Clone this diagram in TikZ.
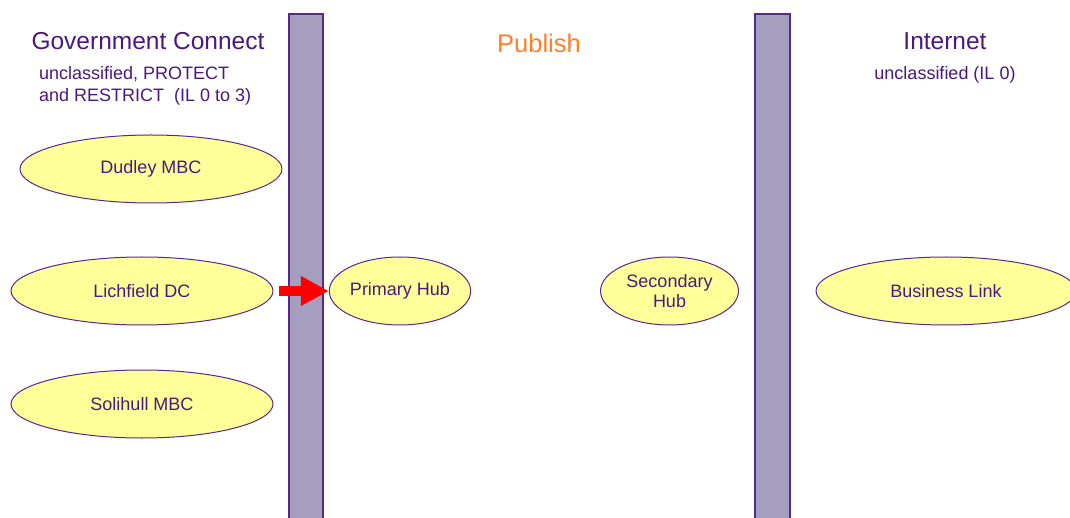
\documentclass[tikz,border=0pt]{standalone}
\usepackage{fontspec}
\setmainfont{Liberation Sans}
\usetikzlibrary{shapes.geometric,arrows.meta}
\definecolor{txtpurple}{RGB}{75,25,125}
\definecolor{edgepurple}{RGB}{88,40,140}
\definecolor{barfill}{RGB}{166,158,190}
\definecolor{ellfill}{RGB}{255,255,153}
\definecolor{pubor}{RGB}{255,127,39}
\tikzset{
  zone/.style={draw=edgepurple, fill=barfill, line width=1.2pt},
  site/.style={ellipse, draw=edgepurple, fill=ellfill, line width=1pt, inner sep=0pt,
    minimum width=262pt, minimum height=68pt, text=txtpurple,
    font=\fontsize{18}{21}\selectfont, align=center},
  hub/.style={site, minimum width=138pt},
  title/.style={text=txtpurple, font=\fontsize{24.5}{28}\selectfont, inner sep=0pt, anchor=base},
  sub/.style={text=txtpurple, font=\fontsize{18}{21}\selectfont, inner sep=0pt},
  flow/.style={draw=red, line width=10pt, -{Triangle[length=28pt,width=28pt]}, red}
}
\begin{document}
\begin{tikzpicture}[x=1pt,y=-1pt]
\useasboundingbox (0,0) rectangle (1070,518);
\clip (0,0) rectangle (1070,518);
\fill[white] (0,0) rectangle (1070,518);
% bars
\draw[zone] (289,14) rectangle (323,530);
\draw[zone] (755,14) rectangle (790,530);
% titles
\node[title] (gc) at (148,50) {Government Connect};
\node[sub, anchor=base west] (gcs1) at (39,80) {unclassified, PROTECT};
\node[sub, anchor=base west] (gcs2) at (39,102) {and RESTRICT\ \ (IL 0 to 3)};
\node[title, text=pubor, font=\fontsize{25.5}{28}\selectfont] (pub) at (539,53) {Publish};
\node[title] (inet) at (945,50) {Internet};
\node[sub, anchor=base] (inets) at (945,80) {unclassified (IL 0)};
% ellipses
\node[site] (dud) at (151,169) {Dudley MBC};
\node[site] (lich) at (142,291) {Lichfield DC};
\node[site] (soli) at (142,404) {Solihull MBC};
\node[hub] (prim) at (400,291) {\raisebox{-1.5pt}{Primary Hub}};
\node[hub] (sec) at (669.5,291) {Secondary\\[-1pt]Hub};
\node[site, minimum width=260pt] (bl) at (946,291) {Business Link};
% arrow
\draw[flow, shorten <=5pt] (lich.east) -- (prim.west);
\end{tikzpicture}
\end{document}
